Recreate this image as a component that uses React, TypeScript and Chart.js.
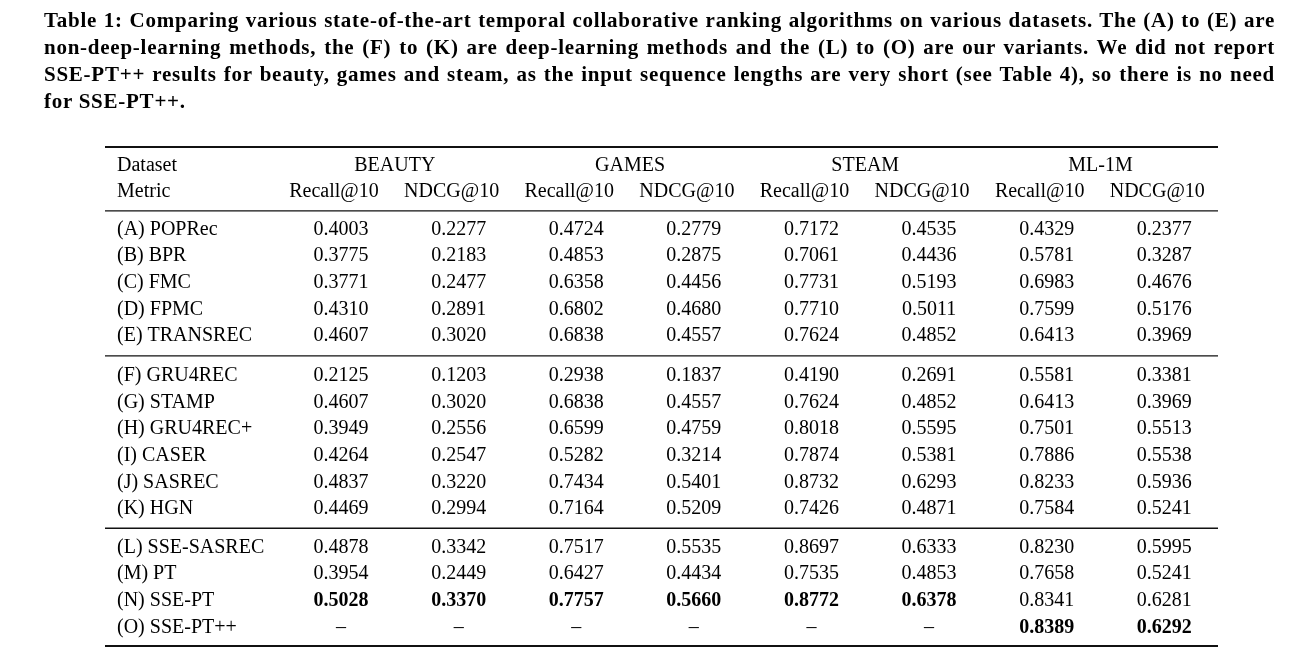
import React, { useEffect, useRef } from "react";
import { Chart, registerables } from "chart.js";

Chart.register(...registerables);

const captionLines = [
  "Table 1: Comparing various state-of-the-art temporal collaborative ranking algorithms on various datasets. The (A) to (E) are",
  "non-deep-learning methods, the (F) to (K) are deep-learning methods and the (L) to (O) are our variants. We did not report",
  "SSE-PT++ results for beauty, games and steam, as the input sequence lengths are very short (see Table 4), so there is no need",
  "for SSE-PT++.",
];

const headerLabels = ["Dataset", "Metric"];
const datasetNames = ["BEAUTY", "GAMES", "STEAM", "ML-1M"];
const metricNames = ["Recall@10", "NDCG@10"];

const methods = [
  "(A) POPRec", "(B) BPR", "(C) FMC", "(D) FPMC", "(E) TRANSREC",
  "(F) GRU4REC", "(G) STAMP", "(H) GRU4REC+", "(I) CASER", "(J) SASREC", "(K) HGN",
  "(L) SSE-SASREC", "(M) PT", "(N) SSE-PT", "(O) SSE-PT++",
];
const methodGroups = [0, 0, 0, 0, 0, 1, 1, 1, 1, 1, 1, 2, 2, 2, 2];

const beautyRecall = [0.4003, 0.3775, 0.3771, 0.4310, 0.4607, 0.2125, 0.4607, 0.3949, 0.4264, 0.4837, 0.4469, 0.4878, 0.3954, 0.5028, null];
const beautyNdcg = [0.2277, 0.2183, 0.2477, 0.2891, 0.3020, 0.1203, 0.3020, 0.2556, 0.2547, 0.3220, 0.2994, 0.3342, 0.2449, 0.3370, null];
const gamesRecall = [0.4724, 0.4853, 0.6358, 0.6802, 0.6838, 0.2938, 0.6838, 0.6599, 0.5282, 0.7434, 0.7164, 0.7517, 0.6427, 0.7757, null];
const gamesNdcg = [0.2779, 0.2875, 0.4456, 0.4680, 0.4557, 0.1837, 0.4557, 0.4759, 0.3214, 0.5401, 0.5209, 0.5535, 0.4434, 0.5660, null];
const steamRecall = [0.7172, 0.7061, 0.7731, 0.7710, 0.7624, 0.4190, 0.7624, 0.8018, 0.7874, 0.8732, 0.7426, 0.8697, 0.7535, 0.8772, null];
const steamNdcg = [0.4535, 0.4436, 0.5193, 0.5011, 0.4852, 0.2691, 0.4852, 0.5595, 0.5381, 0.6293, 0.4871, 0.6333, 0.4853, 0.6378, null];
const mlRecall = [0.4329, 0.5781, 0.6983, 0.7599, 0.6413, 0.5581, 0.6413, 0.7501, 0.7886, 0.8233, 0.7584, 0.8230, 0.7658, 0.8341, 0.8389];
const mlNdcg = [0.2377, 0.3287, 0.4676, 0.5176, 0.3969, 0.3381, 0.3969, 0.5513, 0.5538, 0.5936, 0.5241, 0.5995, 0.5241, 0.6281, 0.6292];

const columns: (number | null)[][] = [beautyRecall, beautyNdcg, gamesRecall, gamesNdcg, steamRecall, steamNdcg, mlRecall, mlNdcg];

const FONT = '"Liberation Serif", "Times New Roman", serif';
const groupGap = [0.4, 0.9, 1.35];
const rowY = (i: number) => i + 2 + groupGap[methodGroups[i]];

const tablePlugin = {
  id: "tableText",
  afterDatasetsDraw(chart: any) {
    const { ctx, chartArea } = chart;
    const xs = chart.scales.x;
    const ys = chart.scales.y;
    ctx.save();
    ctx.fillStyle = "#000";
    ctx.textBaseline = "middle";
    const rule = (v: number, w: number) => {
      const y = ys.getPixelForValue(v);
      ctx.beginPath();
      ctx.lineWidth = w;
      ctx.strokeStyle = "#111";
      ctx.moveTo(chartArea.left, y);
      ctx.lineTo(chartArea.right, y);
      ctx.stroke();
    };
    rule(-0.7, 2.2);
    rule((1 + rowY(0)) / 2, 1.4);
    rule((rowY(4) + rowY(5)) / 2, 1.4);
    rule((rowY(10) + rowY(11)) / 2, 1.4);
    rule(rowY(methods.length - 1) + 0.7, 2.2);

    const left = chartArea.left + 12;
    ctx.font = `20px ${FONT}`;
    ctx.textAlign = "left";
    headerLabels.forEach((h, i) => ctx.fillText(h, left, ys.getPixelForValue(i)));
    ctx.textAlign = "center";
    datasetNames.forEach((d, g) => {
      ctx.fillText(d, xs.getPixelForValue(2 * g + 1.5) - 5, ys.getPixelForValue(0));
    });
    columns.forEach((_, c) => {
      ctx.fillText(metricNames[c % 2], xs.getPixelForValue(c + 1) - 7, ys.getPixelForValue(1));
    });
    ctx.textAlign = "left";
    methods.forEach((m, i) => ctx.fillText(m, left, ys.getPixelForValue(rowY(i))));
    ctx.textAlign = "center";
    chart.data.datasets.forEach((ds: any, di: number) => {
      const meta = chart.getDatasetMeta(di);
      const vals = columns[di].filter((v) => v !== null) as number[];
      const best = Math.max(...vals);
      meta.data.forEach((pt: any, i: number) => {
        const v = ds.data[i].v;
        const bold = v !== null && v === best;
        ctx.font = `${bold ? "bold " : ""}20px ${FONT}`;
        ctx.fillText(v === null ? "–" : v.toFixed(4), pt.x, pt.y);
      });
    });
    ctx.restore();
  },
};

export default function App() {
  const ref = useRef<HTMLCanvasElement | null>(null);
  useEffect(() => {
    if (!ref.current) return;
    const chart = new Chart(ref.current, {
      type: "scatter",
      data: {
        datasets: columns.map((col, c) => ({
          label: `${datasetNames[Math.floor(c / 2)]} ${metricNames[c % 2]}`,
          data: col.map((v, i) => ({ x: c + 1, y: rowY(i), v })),
          pointRadius: 0,
          pointHoverRadius: 0,
        })),
      },
      options: {
        responsive: false,
        animation: false,
        events: [],
        layout: { padding: { left: 105, right: 97, top: 139, bottom: 2 } },
        plugins: { legend: { display: false }, tooltip: { enabled: false }, title: { display: false } },
        scales: {
          x: { type: "linear", min: -1.007, max: 8.457, display: false },
          y: { type: "linear", min: -1, max: 18.5, reverse: true, display: false },
        },
      },
      plugins: [tablePlugin],
    });
    return () => chart.destroy();
  }, []);

  return (
    <div style={{ position: "absolute", left: 0, top: 0, width: 1315, height: 660, background: "#fff" }}>
      <canvas ref={ref} width={1315} height={660} style={{ position: "absolute", left: 0, top: 0 }} />
      <div
        style={{
          position: "absolute",
          left: 44,
          top: 7,
          width: 1231,
          font: `bold 21px ${FONT}`,
          lineHeight: "27px",
          letterSpacing: "0.75px",
          color: "#000",
        }}
      >
        {captionLines.map((l, i) => (
          <div
            key={i}
            style={{
              whiteSpace: "nowrap",
              textAlign: i < captionLines.length - 1 ? "justify" : "left",
              textAlignLast: i < captionLines.length - 1 ? "justify" : "left",
            }}
          >
            {l}
          </div>
        ))}
      </div>
    </div>
  );
}
